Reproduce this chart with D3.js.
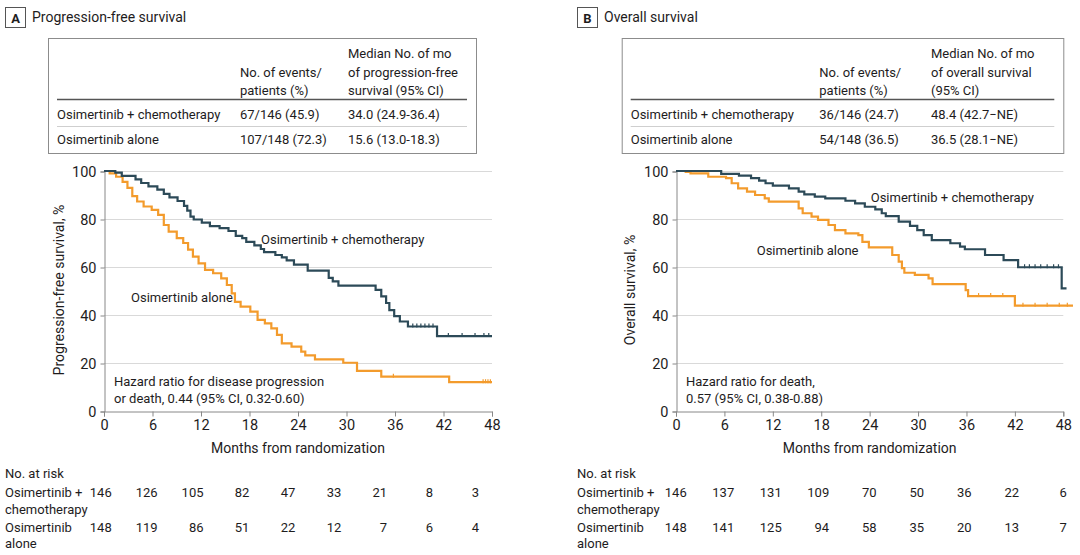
<!DOCTYPE html>
<html lang="en">
<head>
<meta charset="utf-8">
<title>Kaplan-Meier</title>
<script src="https://cdn.jsdelivr.net/npm/d3@7"></script>
<style>
body { margin: 0; background: #fff; }
text { font-family: Roboto, "DejaVu Sans Condensed", sans-serif; fill: #1e1c1d; font-size: 13px; }
.grid line { stroke: #d9d9d9; stroke-width: 1; }
.km { fill: none; stroke-width: 2.2px; }
</style>
</head>
<body>
<script>
// shared ticks
var monthTicks = [0, 6, 12, 18, 24, 30, 36, 42, 48];
var pctTicks = [0, 20, 40, 60, 80, 100];
var armNames = ["Osimertinib + chemotherapy", "Osimertinib alone"];

// panel A - progression-free survival, [month, %] at each step
var pfsChemo = [[0,100],[1.4,99.3],[2.2,98],[3.9,96.5],[4.6,95],[5.5,93.6],[6.6,92.2],[7.4,90.5],[8.1,89],
  [9.1,87.5],[9.9,85.5],[10.3,83.5],[10.7,81],[11.1,79.8],[12.1,78.5],[13.1,77],[14.3,76.2],[15.4,75],
  [16.3,73],[17.1,72],[17.6,70.5],[18.6,69],[19.4,67.5],[19.8,66.2],[21.2,65],[22,64],[22.6,62.8],
  [23.5,61],[25.2,58.5],[27.8,55.5],[28.3,54],[29,52.2],[33.6,50.5],[34.3,47.8],[34.9,45],[35.3,42],
  [35.9,39.5],[36.6,37.3],[37.6,35.2],[41.2,31.2],[48,31.2]];
var pfsAlone = [[0,100],[0.7,99],[1.5,97.6],[2.3,95.5],[2.9,93],[3.5,89.5],[4.1,87.3],[4.9,85.2],[5.9,83.8],
  [6.7,81.7],[7.4,77.5],[8,74.7],[9,72],[9.8,70],[10.4,67.2],[11,64.3],[11.7,61.5],[12.5,58.8],[13.5,57.4],
  [14.5,55.3],[15.2,52.5],[15.8,49],[16.2,45.5],[16.9,43.5],[18.1,41.4],[19,38],[19.9,36.5],[20.7,34.4],
  [21.4,31.7],[22,28.2],[23.2,26.8],[24.4,24.7],[24.9,23.2],[26.1,21.5],[29.6,20.1],[31.3,16.7],
  [34.3,14.3],[42.7,12],[48,12]];
var pfsChemoCens = [38.2, 38.7, 39.2, 39.7, 40.2, 40.7, 42.6, 44.3, 45.9, 47, 47.6];
var pfsAloneCens = [35.8, 46.9, 47.2, 47.5, 47.8];

// panel B - overall survival
var osChemo = [[0,100],[5.6,98.8],[7.8,98.1],[9.3,97],[10.3,96],[11.1,94.9],[12,93.9],[14,92.8],[15.2,91.4],
  [15.9,90.3],[17.2,89.3],[18.5,88.6],[21,87.6],[22.2,86.5],[23.4,85.1],[24.7,84],[25.5,82.4],[26,81.2],
  [27.6,78.9],[29,77.1],[29.9,75.4],[30.7,73.3],[31.7,71.2],[34,69.9],[35.2,68.5],[35.8,67.4],[38.3,65],
  [40.6,62.9],[42.4,59.9],[47.8,51.1],[48.4,51.1]];
var osAlone = [[0,100],[1.2,99.6],[1.8,99],[4,97.6],[6.2,97],[6.9,94.9],[7.7,92.8],[8.8,91.4],[9.8,90],
  [11,88.6],[11.5,87.2],[15.2,84.4],[15.7,82.4],[16.8,81],[17.6,79.6],[18.9,77.5],[19.7,75.4],[21,74],
  [22.6,73.3],[23.1,70.5],[23.9,68.2],[26.8,65],[27.6,62.2],[28,59.5],[28.3,57.6],[29.6,56.7],[31.3,55.3],
  [31.8,52.9],[35.9,50.4],[36.2,47.9],[42,43.9],[49.2,43.9]];
var osChemoCens = [43.2, 43.8, 44.5, 45.2, 46, 46.8, 47.4];
var osAloneCens = [37.5, 39, 40.5, 43, 44.5, 46, 47.5, 48.5];

// numbers at risk
var riskPfsChemo = [146, 126, 105, 82, 47, 33, 21, 8, 3];
var riskPfsAlone = [148, 119, 86, 51, 22, 12, 7, 6, 4];
var riskOsChemo = [146, 137, 131, 109, 70, 50, 36, 22, 6];
var riskOsAlone = [148, 141, 125, 94, 58, 35, 20, 13, 7];

// summary tables
var pfsHeader = [["No. of events/", "patients (%)"], ["Median No. of mo", "of progression-free", "survival (95% CI)"]];
var pfsEvents = ["67/146 (45.9)", "107/148 (72.3)"];
var pfsMedian = ["34.0 (24.9-36.4)", "15.6 (13.0-18.3)"];
var osHeader = [["No. of events/", "patients (%)"], ["Median No. of mo", "of overall survival", "(95% CI)"]];
var osEvents = ["36/146 (24.7)", "54/148 (36.5)"];
var osMedian = ["48.4 (42.7\u2212NE)", "36.5 (28.1\u2212NE)"];

var chemoColor = "#2c4a58", aloneColor = "#f39b2c";

var svg = d3.select("body").append("svg").attr("width", 1080).attr("height", 555);

function stepAt(curve, t) {
  var s = curve[0][1];
  curve.forEach(function(p) { if (p[0] <= t) s = p[1]; });
  return s;
}

function drawPanel(c) {
  var g = svg.append("g");

  // panel letter + title
  g.append("rect").attr("x", c.left + 5.5).attr("y", 7.5).attr("width", 20).attr("height", 20)
    .attr("fill", "none").attr("stroke", "#555");
  g.append("text").attr("x", c.left + 15.5).attr("y", 22.5).attr("text-anchor", "middle")
    .style("font-weight", "bold").style("font-size", "13px").text(c.letter);
  g.append("text").attr("x", c.left + 32).attr("y", 22).style("font-size", "14px").text(c.title);

  // summary table
  g.append("rect").attr("x", c.tbl[0] + 0.5).attr("y", 38.5).attr("width", c.tbl[1] - c.tbl[0])
    .attr("height", 115).attr("fill", "none").attr("stroke", "#8c8c8c");
  g.append("line").attr("x1", c.tbl[0] + 9).attr("x2", c.tbl[1] - 9).attr("y1", 99.5).attr("y2", 99.5)
    .attr("stroke", "#555").attr("stroke-width", 1.3);
  g.append("line").attr("x1", c.tbl[0] + 9).attr("x2", c.tbl[1] - 9).attr("y1", 126.5).attr("y2", 126.5)
    .attr("stroke", "#cfcfcf");
  c.header.forEach(function(lines, i) {
    var base = 95 - (lines.length - 1) * 18.5;
    lines.forEach(function(s, j) {
      g.append("text").attr("x", c.cols[i]).attr("y", base + j * 18.5).text(s);
    });
  });
  armNames.forEach(function(n, i) {
    var y = 119 + i * 25;
    g.append("text").attr("x", c.tbl[0] + 9).attr("y", y).text(n);
    g.append("text").attr("x", c.cols[0]).attr("y", y).text(c.events[i]);
    g.append("text").attr("x", c.cols[1]).attr("y", y).text(c.median[i]);
  });

  // scales
  var x = d3.scaleLinear().domain([0, 48]).range([c.x0, c.x1]);
  var y = d3.scaleLinear().domain([0, 100]).range([411, 171]);

  g.append("g").attr("class", "grid").selectAll("line").data(pctTicks.slice(1)).join("line")
    .attr("x1", c.x0).attr("x2", c.x1).attr("y1", function(d) { return y(d) + 0.5; })
    .attr("y2", function(d) { return y(d) + 0.5; });

  var yAxis = g.append("g").attr("transform", "translate(" + (c.x0 + 0.5) + ",0.5)")
    .call(d3.axisLeft(y).tickValues(pctTicks).tickSize(4).tickPadding(4));
  var xAxis = g.append("g").attr("transform", "translate(0," + 411.5 + ")")
    .call(d3.axisBottom(x).tickValues(monthTicks).tickSize(5).tickPadding(3));
  [yAxis, xAxis].forEach(function(a) {
    a.select(".domain").attr("stroke", "#888");
    a.selectAll(".tick line").attr("stroke", "#888");
    a.selectAll(".tick text").style("font-size", "14.5px").attr("fill", "#1e1c1d");
  });

  g.append("text").attr("x", (c.x0 + c.x1) / 2).attr("y", 453).attr("text-anchor", "middle")
    .style("font-size", "14px").text("Months from randomization");
  g.append("text").attr("transform", "translate(" + c.yTitleX + ",290) rotate(-90)")
    .attr("text-anchor", "middle").style("font-size", "14px").text(c.yTitle);

  // curves
  var line = d3.line().curve(d3.curveStepAfter)
    .x(function(d) { return x(d[0]); }).y(function(d) { return y(d[1]); });
  [[c.alone, aloneColor, c.aloneCens], [c.chemo, chemoColor, c.chemoCens]].forEach(function(k) {
    g.append("path").datum(k[0]).attr("class", "km").attr("stroke", k[1]).attr("d", line);
    g.selectAll(null).data(k[2]).join("line")
      .attr("x1", function(d) { return x(d); }).attr("x2", function(d) { return x(d); })
      .attr("y1", function(d) { return y(stepAt(k[0], d)) - 3; })
      .attr("y2", function(d) { return y(stepAt(k[0], d)) + 1; })
      .attr("stroke", k[1]).attr("stroke-width", 1.2);
  });

  g.append("text").attr("x", c.chemoLbl[0]).attr("y", c.chemoLbl[1]).text(armNames[0]);
  g.append("text").attr("x", c.aloneLbl[0]).attr("y", c.aloneLbl[1]).text(armNames[1]);
  c.hr.forEach(function(s, i) {
    g.append("text").attr("x", c.x0 + 10).attr("y", 386 + i * 17).text(s);
  });

  // numbers at risk
  var rx = d3.scaleLinear().domain([0, 48]).range(c.riskRange);
  var rowLbl = [["No. at risk", 478], ["Osimertinib +", 497], ["chemotherapy", 514], ["Osimertinib", 532], ["alone", 548]];
  rowLbl.forEach(function(r) {
    g.append("text").attr("x", c.left + 5).attr("y", r[1]).text(r[0]);
  });
  [[c.riskChemo, 497], [c.riskAlone, 532]].forEach(function(r) {
    g.selectAll(null).data(r[0]).join("text")
      .attr("x", function(d, i) { return rx(monthTicks[i]); }).attr("y", r[1])
      .attr("text-anchor", "end").text(function(d) { return d; });
  });
}

drawPanel({
  left: 0, letter: "A", title: "Progression-free survival",
  tbl: [48, 476], cols: [240, 348], header: pfsHeader, events: pfsEvents, median: pfsMedian,
  x0: 104, x1: 492, yTitleX: 64, yTitle: "Progression-free survival, %",
  chemo: pfsChemo, alone: pfsAlone, chemoCens: pfsChemoCens, aloneCens: pfsAloneCens,
  chemoLbl: [261, 244], aloneLbl: [131, 302],
  hr: ["Hazard ratio for disease progression", "or death, 0.44 (95% CI, 0.32-0.60)"],
  riskRange: [111.7, 479], riskChemo: riskPfsChemo, riskAlone: riskPfsAlone
});
drawPanel({
  left: 572, letter: "B", title: "Overall survival",
  tbl: [621.7, 1063.3], cols: [819.3, 931], header: osHeader, events: osEvents, median: osMedian,
  x0: 676, x1: 1063.3, yTitleX: 635, yTitle: "Overall survival, %",
  chemo: osChemo, alone: osAlone, chemoCens: osChemoCens, aloneCens: osAloneCens,
  chemoLbl: [870.7, 202], aloneLbl: [756.7, 255],
  hr: ["Hazard ratio for death,", "0.57 (95% CI, 0.38-0.88)"],
  riskRange: [686.7, 1066.7], riskChemo: riskOsChemo, riskAlone: riskOsAlone
});
</script>
</body>
</html>
